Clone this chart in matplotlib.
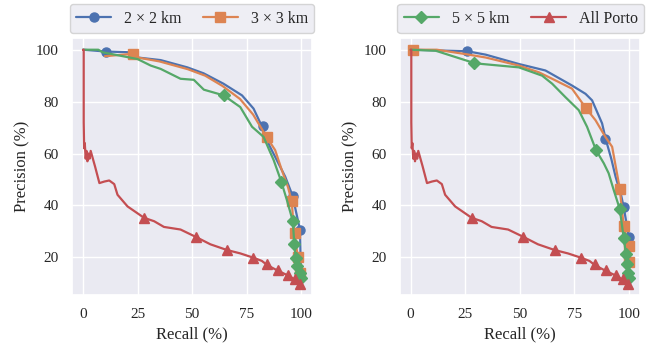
import numpy as np
import matplotlib
matplotlib.use('Agg')
import matplotlib.pyplot as plt
from matplotlib.lines import Line2D
import seaborn as sns

sns.set_theme(style='darkgrid')
plt.rcParams['font.family'] = ['Liberation Serif', 'DejaVu Serif']

# ---- data: recall / precision curves (%) ----
# All Porto (same on both panels)
red_r = [0, 0.3, 0.3, 0.5, 0.8, 1.2, 1.6, 2.0, 2.5, 3.0, 3.5, 5.5, 7.5, 9.8, 12, 14.3, 15.8,
         20.4, 28, 32.6, 37.1, 44.7, 51.6, 58.4, 66, 72.1, 77.9, 82, 84.6, 89.4, 93.7, 96.8, 99.7]
red_p = [100, 100, 72, 62, 64, 58, 61, 57, 60, 58, 61, 55, 48.6, 49.2, 49.6, 48.2, 44.1,
         39.6, 35.2, 33.9, 31.7, 30.7, 27.9, 25, 22.8, 21.5, 19.9, 18.6, 16.9, 14.8, 13.1, 11.6, 9.7]
red_mr = [28, 51.6, 66, 77.9, 84.5, 89.5, 94, 97.3, 99.7]
red_mp = [35.2, 27.9, 22.9, 19.9, 17.5, 15, 13.1, 11.7, 9.7]

# left panel
l_blue_r = [0, 10.5, 22, 25, 35.6, 47.8, 55.3, 64.4, 72.9, 78.2, 82, 85.5, 89.6, 92.7, 95.5,
            96.5, 97.3, 99.5, 100]
l_blue_p = [100, 99.3, 99, 97, 96, 93.2, 90.9, 86.9, 82.4, 77.3, 70.5, 63, 56.2, 51.1, 45,
            43.8, 39, 30.5, 10.5]
l_blue_mr = [10.5, 82.5, 96.5, 99.5]
l_blue_mp = [99.3, 70.5, 43.8, 30.5]

l_orange_r = [10, 22.7, 25, 35, 48, 56, 64, 72, 78, 84.3, 88.1, 91, 94, 95.7, 96.2, 97,
              98.3, 99.3, 100]
l_orange_p = [97.5, 98.4, 97, 95.5, 92.5, 90, 86, 81, 75, 66.2, 61.3, 54, 47, 41.6, 36, 29.5,
              21, 15, 10.5]
l_orange_mr = [22.7, 84.3, 95.7, 97, 98.5, 99.5]
l_orange_mp = [98.4, 66.2, 41.6, 29.5, 20, 14]

l_green_r = [0, 7, 9, 25, 31, 35.6, 44.7, 50.8, 55.4, 64.5, 72.1, 77.5, 82.8, 85.4, 87.4,
             90.9, 93.5, 96.2, 96.9, 97.5, 98.2, 99.5, 100]
l_green_p = [100, 100, 99, 96.4, 93.9, 92.6, 88.8, 88.4, 84.6, 82.4, 77.9, 70.3, 66.4, 61.3,
             57.5, 49.2, 42, 33.9, 25, 19.9, 16.7, 13.9, 10.5]
l_green_mr = [64.5, 90.9, 96.2, 96.9, 97.5, 98.2, 99.5, 99.9]
l_green_mp = [82.4, 49.2, 33.9, 25, 19.9, 16.7, 13.9, 12]

# right panel
r_blue_r = [0, 26, 34.4, 49.6, 61.8, 74, 80.2, 83.2, 87.8, 89.5, 92, 94, 96.5, 97.7, 99,
            100, 100]
r_blue_p = [100, 99.4, 98.1, 94.5, 92, 86.2, 83, 80.5, 71.6, 65.4, 58, 51, 44, 39.4, 33,
            27.9, 10.5]
r_blue_mr = [26, 89.3, 97.7, 100]
r_blue_mp = [99.4, 65.4, 39.4, 27.9]

r_orange_r = [1, 12, 25.2, 34.4, 49.6, 58.8, 64.9, 74, 80.2, 84.8, 89.3, 92.4, 94.7, 95.9,
              97.7, 100, 100]
r_orange_p = [100, 100, 98.3, 97, 93.9, 91.3, 88.8, 85, 77.7, 72.8, 66.4, 62.6, 52, 46.5,
              32, 24.3, 10.5]
r_orange_mr = [1, 80.2, 95.9, 97.7, 100, 100]
r_orange_mp = [100, 77.7, 46.5, 32, 24.3, 18]

r_green_r = [0, 11.5, 29, 32.8, 49.6, 60.3, 64.9, 71, 77.1, 80.9, 85, 88.6, 90.8, 93.1,
             95.9, 97.7, 98.8, 99.2, 100, 100]
r_green_p = [100, 99.6, 94.9, 94.5, 93.2, 90, 86.9, 81.7, 76.7, 70.3, 61.3, 56.2, 52.4, 46,
             38.6, 27.5, 21.1, 17.3, 14, 10.5]
r_green_mr = [29, 85, 95.9, 97.7, 98.8, 99.2, 99.9, 100]
r_green_mp = [94.9, 61.3, 38.6, 27.5, 21.1, 17.3, 14, 12]

labels = ['2 × 2 km', '3 × 3 km', '5 × 5 km', 'All Porto']
colors = sns.color_palette('deep')[:4]
markers = ['o', 's', 'D', '^']

fig = plt.figure(figsize=(6.5, 3.49), dpi=100)
ax1 = fig.add_axes([0.111, 0.155, 0.369, 0.736])
ax2 = fig.add_axes([0.615, 0.155, 0.369, 0.736])

panels = [
    (ax1, [(l_blue_r, l_blue_p, l_blue_mr, l_blue_mp),
           (l_orange_r, l_orange_p, l_orange_mr, l_orange_mp),
           (l_green_r, l_green_p, l_green_mr, l_green_mp),
           (red_r, red_p, red_mr, red_mp)]),
    (ax2, [(r_blue_r, r_blue_p, r_blue_mr, r_blue_mp),
           (r_orange_r, r_orange_p, r_orange_mr, r_orange_mp),
           (r_green_r, r_green_p, r_green_mr, r_green_mp),
           (red_r, red_p, red_mr, red_mp)]),
]

for ax, curves in panels:
    for i, (r, p, mr, mp) in enumerate(curves):
        ax.plot(r, p, color=colors[i], lw=1.6)
        ax.plot(mr, mp, ls='none', marker=markers[i], color=colors[i], ms=6.5)
    ax.set_xlim(-5, 105)
    ax.set_ylim(5.5, 104.5)
    ax.set_xticks([0, 25, 50, 75, 100])
    ax.set_yticks([20, 40, 60, 80, 100])
    ax.set_xlabel('Recall (%)', fontsize=12)
    ax.set_ylabel('Precision (%)', fontsize=12)
    ax.tick_params(labelsize=11)

handles = [Line2D([], [], color=colors[i], marker=markers[i], lw=1.6, ms=6.5) for i in range(4)]
ax1.legend(handles[:2], labels[:2], loc='lower left', bbox_to_anchor=(-0.01, 1.02, 1.02, 0.1),
           mode='expand', ncol=2, fontsize=11.5, borderaxespad=0, handlelength=2.2)
ax2.legend(handles[2:], labels[2:], loc='lower left', bbox_to_anchor=(-0.01, 1.02, 1.03, 0.1),
           mode='expand', ncol=2, fontsize=11.5, borderaxespad=0, handlelength=2.2)

fig.savefig('out.png', dpi=100)
